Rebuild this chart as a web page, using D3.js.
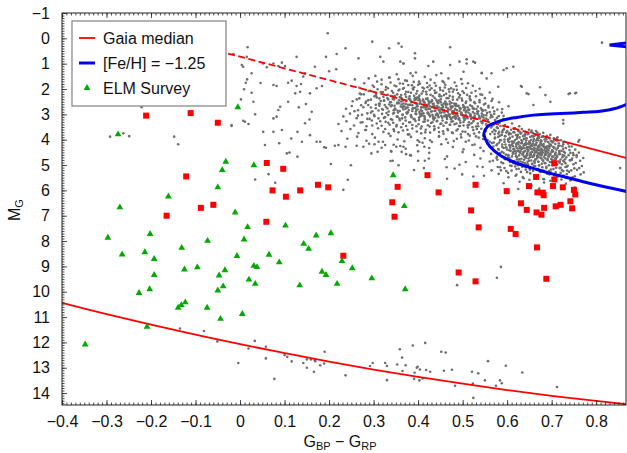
<!DOCTYPE html>
<html><head><meta charset="utf-8">
<script src="https://cdn.jsdelivr.net/npm/d3@7"></script>
<style>body{margin:0;background:#fff}svg{display:block}</style>
</head><body>
<svg id="c" width="627" height="453"></svg>
<script>
// ---------------- data ----------------
const xTickValues = [-0.4,-0.3,-0.2,-0.1,0,0.1,0.2,0.3,0.4,0.5,0.6,0.7,0.8];
const xTickLabels = ["\u22120.4","\u22120.3","\u22120.2","\u22120.1","0","0.1","0.2","0.3","0.4","0.5","0.6","0.7","0.8"];
const yTickValues = [-1,0,1,2,3,4,5,6,7,8,9,10,11,12,13,14];
const yTickLabels = ["\u22121","0","1","2","3","4","5","6","7","8","9","10","11","12","13","14"];

// Gaia median (upper straight relation)  [colour, M_G]
const gaiaX = [-0.027, 0.30, 0.60, 0.73, 0.867];
const gaiaM = [0.60, 2.11, 3.49, 4.09, 4.72];
const gaiaDashEnd = 0.73;

// Gaia median (white-dwarf cooling sequence)
const wdX = [-0.4,-0.3,-0.2,-0.1,0,0.1,0.2,0.3,0.4,0.5,0.6,0.7,0.8,0.867];
const wdM = [10.44,10.88,11.30,11.69,12.07,12.42,12.76,13.07,13.36,13.63,13.88,14.11,14.31,14.44];

// [Fe/H] = -1.25 isochrone
const isoX = [0.87,0.809,0.771,0.734,0.6965,0.659,0.6217,0.584,0.5617,0.5505,0.548,0.5557,0.584,0.6217,0.659,0.6965,0.734,0.771,0.809,0.8426,0.87];
const isoM = [6.05,5.82,5.66,5.49,5.33,5.13,4.93,4.61,4.28,3.95,3.74,3.49,3.26,3.12,3.03,2.99,2.96,2.92,2.88,2.77,2.59];
const hbX = [0.87,0.83,0.87];
const hbM = [0.18,0.26,0.34];

// red squares
const redX = [-0.211,-0.111,-0.050,0.060,0.097,-0.121,0.073,0.103,0.135,-0.088,-0.060,-0.165,0.059,0.175,0.198,0.232,0.342,0.347,0.354,0.421,0.446,0.491,0.529,0.519,0.536,0.529,0.599,0.608,0.619,0.631,0.644,0.649,0.665,0.668,0.680,0.682,0.666,0.677,0.683,0.667,0.688,0.703,0.706,0.706,0.725,0.709,0.720,0.742,0.746,0.750,0.753];
const redM = [3.05,2.95,3.33,4.92,5.15,5.45,6.00,6.25,6.00,6.69,6.57,7.00,7.24,5.78,5.88,8.58,6.47,7.04,5.86,5.40,6.08,9.24,5.78,6.79,7.46,9.59,6.03,7.52,7.72,6.51,6.77,5.83,5.47,6.08,6.09,6.19,6.87,6.96,6.69,8.25,9.49,5.83,5.57,4.93,5.88,6.63,6.57,6.43,6.71,5.98,6.16];

// ELM Survey (green triangles)
const elmX = [-0.005,-0.274,-0.032,-0.040,0.031,-0.050,-0.161,-0.270,-0.011,0.017,0.102,-0.297,-0.202,-0.073,0.009,-0.131,0.143,0.154,0.171,0.204,-0.265,-0.214,-0.193,-0.007,0.065,0.088,0.229,0.252,-0.193,-0.125,-0.096,-0.034,0.031,0.038,-0.047,0.020,0.184,0.193,0.218,0.134,0.034,-0.038,-0.050,-0.203,-0.227,-0.123,-0.132,-0.139,-0.074,0.005,-0.044,-0.209,-0.348,0.344,0.369,0.296,0.371];
const elmM = [2.72,3.79,4.87,5.20,5.01,5.88,6.24,6.67,6.87,7.45,7.39,7.87,7.72,7.99,7.94,8.27,8.11,8.31,7.78,7.69,8.53,8.44,8.71,8.59,8.54,8.84,8.79,9.07,9.34,9.12,9.04,9.15,8.98,9.03,9.36,9.52,9.21,9.34,9.69,9.75,9.69,9.79,9.95,9.90,10.05,10.42,10.53,10.63,10.63,10.88,11.07,11.38,12.08,5.40,6.62,9.47,9.90];

// Gaia field stars (grey dots), pairs [colour, M_G]
const greyStars = [
// sparse upper / left
[0.197,-0.20],[0.297,0.13],[0.356,0.20],[0.363,0.33],[0.237,0.39],[0.335,0.39],[0.017,0.35],[-0.015,0.62],[0.015,0.73],[0.127,0.73],[0.193,0.73],[0.217,0.62],[0.266,0.79],[0.315,0.73],[0.322,0.92],[0.393,0.59],[0.393,0.79],[0.360,0.92],[0.367,0.99],
[0.004,1.05],[0.007,1.12],[0.052,0.99],[0.060,1.14],[0.075,0.99],[0.086,1.09],[0.094,0.96],[0.101,1.09],[0.026,1.38],[0.016,1.62],[0.013,1.75],[0.046,1.76],[0.009,2.01],[0.026,2.15],[0.075,1.84],[0.082,1.88],[0.108,1.75],[0.116,1.67],[0.127,1.88],[0.137,1.80],[0.142,1.51],[0.146,1.38],[0.168,1.12],[0.200,1.30],[0.216,1.22],
[0.030,2.50],[0.002,2.41],[0.075,3.16],[0.082,3.09],[0.086,2.83],[0.090,2.70],[0.124,2.17],[0.135,2.11],[0.108,2.50],[0.132,2.72],[0.148,2.59],[0.161,2.90],[0.157,2.17],[0.172,1.97],[0.184,1.88],
[0.034,3.00],[-0.019,3.46],[0.007,3.25],[0.019,3.38],[0.052,3.69],[0.075,3.69],[0.094,3.62],[0.115,3.95],[0.139,4.08],[0.056,4.21],[0.088,4.14],[0.105,4.54],[0.129,4.67],[0.172,4.08],[0.180,4.08],[0.189,4.30],[0.213,4.24],[0.129,3.69],[0.157,3.82],[0.146,3.35],[0.156,3.20],
[-0.292,3.88],[-0.262,3.75],[-0.249,3.86],[-0.221,2.72],[-0.148,3.88],[-0.139,4.18],[-0.019,3.42],[0.011,3.29],[0.034,5.57],[0.064,5.36],[0.079,5.70],[0.111,4.51],
[0.204,4.96],[0.249,5.01],[0.242,5.58],[0.232,5.98],[0.193,4.32],[0.221,4.21],[0.237,4.28],[0.277,4.28],[0.302,4.18],[0.311,4.08],[0.309,4.48],[0.326,4.21],[0.339,4.45],[0.351,4.28],[0.360,4.25],[0.367,4.28],[0.363,4.48],[0.373,4.57],[0.384,4.62],[0.403,4.08],[0.410,4.12],[0.414,4.28],[0.400,4.46],[0.343,4.83],[0.356,5.01],[0.391,5.20],[0.400,4.83],[0.413,5.12],[0.424,4.74],[0.338,4.84],
[0.465,5.54],[0.524,5.45],[0.545,5.08],[0.499,5.37],[0.464,5.09],[0.493,4.99],[0.586,9.02],[0.577,9.45],[0.4875,9.74],[0.854,5.12],
[0.741,2.17],[0.755,2.15],[0.726,3.36],[0.762,4.01],[0.749,4.61],[0.741,4.80],[0.734,5.07],[0.723,5.20],[0.644,2.17],[0.686,2.24],[0.659,2.63],[0.633,1.91],[0.599,1.18],[0.614,1.12],[0.580,1.91],[0.554,1.58],[0.543,1.38],[0.509,0.99],[0.524,0.92],[0.472,1.05],[0.493,0.92],[0.434,0.92],[0.423,1.09],[0.383,1.38],[0.367,0.99],
[0.472,0.35],[0.509,0.83],[0.528,0.96],[0.543,1.36],[0.565,1.38],[0.592,1.25],[0.502,1.32],[0.631,1.88],[0.674,1.93],[0.648,2.20],[0.697,2.50],[0.738,2.20],[0.753,2.17],[0.726,3.22],[0.760,4.08],[0.756,4.61],[0.813,0.17],
// subgiant / turn-off band (broad)
[0.335,1.55],[0.352,1.42],[0.371,1.66],[0.388,1.48],[0.402,1.71],[0.415,1.52],[0.428,1.63],[0.441,1.45],[0.455,1.69],[0.468,1.58],[0.482,1.74],[0.497,1.61],[0.512,1.77],[0.395,1.35],[0.452,1.38],
[0.301,1.92],[0.318,1.81],[0.332,1.97],[0.347,1.86],[0.359,1.78],[0.366,1.99],[0.378,1.84],[0.391,1.93],[0.404,1.79],[0.413,1.98],[0.426,1.86],[0.437,1.76],[0.449,1.95],[0.461,1.83],[0.474,1.97],[0.486,1.88],[0.499,1.79],[0.508,1.96],[0.523,1.87],[0.538,1.99],[0.421,1.93],[0.458,1.74],
[0.272,2.21],[0.289,2.08],[0.305,2.25],[0.316,2.12],[0.327,2.03],[0.338,2.27],[0.344,2.15],[0.356,2.06],[0.362,2.24],[0.373,2.11],[0.381,2.29],[0.389,2.02],[0.396,2.18],[0.403,2.26],[0.411,2.09],[0.419,2.21],[0.426,2.04],[0.433,2.28],[0.441,2.14],[0.448,2.22],[0.456,2.07],[0.463,2.19],[0.471,2.27],[0.478,2.11],[0.487,2.03],[0.494,2.24],[0.503,2.16],[0.516,2.29],[0.529,2.08],[0.544,2.23],[0.561,2.14],[0.384,2.15],[0.437,2.06],[0.452,2.29],[0.469,2.01],
[0.253,2.48],[0.268,2.37],[0.282,2.55],[0.294,2.42],[0.307,2.33],[0.314,2.58],[0.323,2.46],[0.331,2.36],[0.339,2.52],[0.346,2.41],[0.353,2.57],[0.359,2.32],[0.366,2.45],[0.372,2.59],[0.379,2.38],[0.386,2.51],[0.392,2.43],[0.398,2.34],[0.405,2.56],[0.412,2.47],[0.418,2.39],[0.424,2.58],[0.431,2.44],[0.437,2.35],[0.444,2.53],[0.451,2.41],[0.458,2.57],[0.464,2.36],[0.471,2.49],[0.478,2.42],[0.485,2.58],[0.492,2.33],[0.499,2.46],[0.507,2.55],[0.516,2.38],[0.526,2.51],[0.538,2.44],[0.551,2.57],[0.567,2.39],[0.582,2.52],[0.362,2.49],[0.401,2.44],[0.428,2.52],[0.447,2.46],[0.475,2.55],
[0.238,2.78],[0.251,2.67],[0.265,2.84],[0.277,2.72],[0.288,2.63],[0.297,2.88],[0.305,2.76],[0.313,2.66],[0.321,2.82],[0.328,2.71],[0.334,2.89],[0.341,2.64],[0.348,2.77],[0.354,2.86],[0.361,2.69],[0.367,2.81],[0.374,2.73],[0.381,2.62],[0.387,2.87],[0.393,2.75],[0.399,2.68],[0.406,2.84],[0.412,2.72],[0.418,2.63],[0.424,2.79],[0.431,2.88],[0.437,2.67],[0.443,2.76],[0.449,2.85],[0.456,2.71],[0.462,2.62],[0.468,2.82],[0.475,2.74],[0.481,2.87],[0.488,2.66],[0.495,2.79],[0.502,2.72],[0.509,2.86],[0.517,2.64],[0.525,2.77],[0.534,2.69],[0.545,2.83],[0.558,2.73],[0.571,2.88],[0.589,2.79],[0.603,2.68],[0.372,2.78],[0.396,2.81],[0.421,2.71],[0.452,2.78],[0.478,2.69],[0.505,2.78],
[0.232,3.08],[0.247,2.97],[0.262,3.15],[0.274,3.02],[0.286,3.18],[0.294,2.93],[0.302,3.07],[0.311,3.16],[0.319,2.98],[0.326,3.11],[0.333,3.03],[0.339,3.19],[0.346,2.94],[0.352,3.09],[0.358,3.17],[0.365,3.01],[0.371,3.12],[0.377,2.92],[0.384,3.06],[0.390,3.18],[0.396,2.99],[0.402,3.13],[0.409,3.04],[0.415,3.19],[0.421,2.95],[0.427,3.08],[0.434,3.16],[0.440,3.02],[0.446,3.11],[0.452,2.93],[0.459,3.07],[0.465,3.18],[0.471,3.01],[0.478,3.12],[0.484,3.04],[0.491,3.19],[0.497,2.96],[0.504,3.09],[0.511,3.15],[0.518,3.03],[0.526,3.12],[0.534,2.97],[0.543,3.08],[0.553,3.17],[0.564,3.02],[0.577,3.14],[0.592,3.06],[0.408,2.97],[0.438,3.14],[0.468,3.05],[0.487,2.94],[0.519,3.18],
[0.221,3.38],[0.239,3.27],[0.256,3.44],[0.271,3.32],[0.284,3.47],[0.296,3.24],[0.307,3.36],[0.318,3.45],[0.327,3.29],[0.336,3.41],[0.344,3.33],[0.351,3.48],[0.359,3.23],[0.366,3.37],[0.373,3.46],[0.380,3.31],[0.387,3.42],[0.394,3.26],[0.401,3.39],[0.408,3.48],[0.415,3.28],[0.422,3.43],[0.429,3.34],[0.436,3.47],[0.443,3.25],[0.450,3.38],[0.457,3.45],[0.464,3.32],[0.471,3.41],[0.478,3.27],[0.486,3.36],[0.494,3.46],[0.502,3.30],[0.511,3.43],[0.520,3.35],[0.530,3.48],[0.541,3.28],[0.553,3.39],[0.566,3.46],[0.580,3.33],[0.595,3.42],[0.611,3.36],[0.627,3.47],
[0.228,3.66],[0.248,3.58],[0.266,3.74],[0.283,3.62],[0.297,3.78],[0.310,3.55],[0.322,3.69],[0.334,3.76],[0.345,3.59],[0.356,3.71],[0.366,3.64],[0.377,3.79],[0.387,3.56],[0.397,3.68],[0.407,3.75],[0.417,3.61],[0.427,3.72],[0.437,3.57],[0.447,3.70],[0.457,3.77],[0.467,3.63],[0.478,3.74],[0.489,3.59],[0.500,3.68],[0.512,3.78],[0.524,3.62],[0.537,3.71],[0.552,3.57],[0.567,3.69],[0.580,3.76],[0.592,3.61],[0.604,3.73],[0.616,3.58],[0.628,3.68],[0.641,3.77],[0.655,3.64],[0.668,3.72],
[0.241,3.96],[0.263,3.88],[0.284,4.04],[0.303,3.92],[0.321,4.08],[0.338,3.85],[0.354,3.99],[0.369,4.06],[0.384,3.89],[0.399,4.02],[0.415,3.94],[0.431,4.09],[0.447,3.86],[0.463,3.98],[0.480,4.05],[0.497,3.91],[0.514,4.03],[0.530,3.87],[0.546,3.97],[0.561,4.08],[0.573,3.92],[0.584,4.01],[0.595,3.86],[0.605,3.96],[0.614,4.07],[0.623,3.90],[0.632,4.02],[0.641,3.95],[0.650,4.08],[0.659,3.88],[0.668,3.99],[0.677,4.06],[0.687,3.93],[0.698,4.04],[0.711,3.97],[0.726,4.09],[0.602,4.04],[0.638,3.84],[0.665,4.03],
[0.262,4.24],[0.290,4.16],[0.318,4.32],[0.345,4.20],[0.372,4.36],[0.398,4.22],[0.425,4.33],[0.452,4.18],[0.478,4.29],[0.502,4.38],[0.522,4.21],[0.540,4.32],[0.556,4.16],[0.569,4.27],[0.580,4.37],[0.589,4.19],[0.598,4.30],[0.606,4.24],[0.614,4.38],[0.621,4.15],[0.628,4.27],[0.635,4.34],[0.642,4.19],[0.649,4.29],[0.655,4.37],[0.662,4.22],[0.669,4.32],[0.676,4.17],[0.683,4.28],[0.690,4.36],[0.698,4.20],[0.706,4.31],[0.715,4.24],[0.726,4.36],[0.739,4.27],[0.611,4.21],[0.632,4.31],[0.652,4.14],[0.672,4.39],[0.694,4.25],[0.592,4.33],[0.645,4.36],[0.681,4.21],
[0.295,4.54],[0.340,4.47],[0.382,4.61],[0.425,4.52],[0.465,4.66],[0.500,4.49],[0.526,4.60],[0.547,4.45],[0.564,4.56],[0.577,4.67],[0.588,4.48],[0.597,4.59],[0.605,4.42],[0.613,4.54],[0.620,4.65],[0.627,4.47],[0.634,4.58],[0.640,4.69],[0.647,4.44],[0.653,4.55],[0.660,4.63],[0.666,4.49],[0.673,4.60],[0.679,4.43],[0.686,4.53],[0.693,4.66],[0.700,4.48],[0.708,4.57],[0.717,4.45],[0.728,4.63],[0.742,4.52],[0.617,4.44],[0.637,4.51],[0.657,4.68],[0.676,4.52],[0.697,4.58],[0.602,4.63],[0.645,4.61],[0.668,4.41],[0.688,4.45],[0.712,4.68],
[0.415,4.83],[0.460,4.76],[0.507,4.88],[0.540,4.74],[0.561,4.86],[0.578,4.79],[0.591,4.93],[0.602,4.73],[0.611,4.85],[0.619,4.96],[0.627,4.77],[0.635,4.89],[0.642,4.72],[0.649,4.83],[0.656,4.95],[0.663,4.78],[0.670,4.87],[0.677,4.74],[0.684,4.92],[0.691,4.81],[0.699,4.88],[0.708,4.75],[0.718,4.86],[0.731,4.93],[0.745,4.80],[0.625,4.86],[0.645,4.97],[0.661,4.85],[0.681,4.83],[0.703,4.96],
[0.482,5.14],[0.533,5.06],[0.565,5.21],[0.584,5.09],[0.598,5.24],[0.610,5.04],[0.621,5.16],[0.631,5.27],[0.641,5.08],[0.651,5.19],[0.660,5.03],[0.669,5.15],[0.678,5.26],[0.688,5.07],[0.698,5.18],[0.709,5.29],[0.720,5.11],[0.735,5.22],[0.751,5.13],[0.645,5.28],[0.672,5.02],[0.694,5.24],
[0.548,5.42],[0.581,5.35],[0.603,5.48],[0.621,5.38],[0.637,5.52],[0.652,5.33],[0.666,5.45],[0.681,5.55],[0.695,5.37],[0.710,5.49],[0.727,5.41],[0.744,5.56],
[0.592,5.72],[0.628,5.66],[0.655,5.81],[0.683,5.69],[0.706,5.86],[0.732,5.74],[0.672,5.93],[0.625,5.95],[0.752,5.89],
// subgiant band core (diagonal)
[0.258,1.62],[0.262,2.41],[0.265,3.05],[0.257,2.88],[0.268,1.95],[0.272,2.64],[0.275,3.31],[0.269,2.18],[0.279,1.77],[0.283,2.49],[0.286,2.96],[0.281,3.62],[0.278,2.21],
[0.289,1.58],[0.292,2.07],[0.294,2.73],[0.291,3.18],[0.288,2.44],[0.298,1.86],[0.302,2.29],[0.305,2.62],[0.301,3.02],[0.297,3.44],[0.304,1.48],
[0.309,2.01],[0.313,2.37],[0.311,2.85],[0.315,3.27],[0.308,1.71],[0.312,2.58],[0.318,1.63],[0.321,2.12],[0.324,2.46],[0.319,2.79],[0.323,3.14],[0.326,3.58],[0.322,2.31],
[0.328,1.92],[0.332,2.23],[0.335,2.61],[0.329,2.95],[0.333,3.33],[0.336,1.55],[0.331,2.77],[0.338,1.74],[0.341,2.08],[0.343,2.39],[0.339,2.68],[0.344,2.97],[0.342,3.21],[0.346,3.66],[0.337,2.52],
[0.348,2.27],[0.351,1.89],[0.353,2.53],[0.349,2.81],[0.354,3.09],[0.352,3.42],[0.356,1.61],[0.347,2.66],[0.358,2.02],[0.361,2.34],[0.363,2.61],[0.359,2.87],[0.364,3.16],[0.362,3.51],[0.366,1.79],[0.357,2.45],[0.365,2.74],
[0.368,1.96],[0.371,2.21],[0.373,2.48],[0.369,2.69],[0.374,2.93],[0.372,3.24],[0.376,3.61],[0.367,2.57],[0.375,1.68],[0.378,2.12],[0.381,2.39],[0.383,2.62],[0.379,2.84],[0.384,3.03],[0.382,3.31],[0.386,1.85],[0.377,2.73],[0.385,2.51],[0.380,3.79],
[0.388,1.98],[0.391,2.27],[0.393,2.55],[0.389,2.76],[0.394,2.98],[0.392,3.19],[0.396,3.47],[0.387,2.64],[0.395,2.41],[0.390,1.72],[0.398,2.08],[0.401,2.33],[0.403,2.58],[0.399,2.81],[0.404,2.99],[0.402,3.22],[0.406,3.56],[0.397,2.69],[0.405,2.47],[0.400,1.83],[0.403,2.91],
[0.408,2.18],[0.411,2.42],[0.413,2.66],[0.409,2.87],[0.414,3.07],[0.412,3.29],[0.416,3.71],[0.407,2.74],[0.415,2.54],[0.410,1.94],[0.412,2.96],[0.418,2.11],[0.421,2.37],[0.423,2.61],[0.419,2.82],[0.424,3.01],[0.422,3.24],[0.426,3.48],[0.417,2.72],[0.425,2.51],[0.420,1.76],[0.422,2.93],[0.427,4.02],
[0.428,2.23],[0.431,2.47],[0.433,2.69],[0.429,2.89],[0.434,3.09],[0.432,3.31],[0.436,3.62],[0.427,2.78],[0.435,2.58],[0.430,1.97],[0.432,3.02],[0.438,2.16],[0.441,2.43],[0.443,2.67],[0.439,2.86],[0.444,3.05],[0.442,3.27],[0.446,3.53],[0.437,2.76],[0.445,2.56],[0.440,1.87],[0.442,2.97],[0.447,3.88],
[0.448,2.29],[0.451,2.52],[0.453,2.74],[0.449,2.93],[0.454,3.13],[0.452,3.36],[0.456,3.67],[0.447,2.84],[0.455,2.63],[0.450,2.04],[0.452,3.06],[0.458,2.24],[0.461,2.49],[0.463,2.72],[0.459,2.92],[0.464,3.11],[0.462,3.33],[0.466,3.58],[0.457,2.82],[0.465,2.61],[0.460,1.94],[0.462,3.03],[0.467,4.12],
[0.468,2.36],[0.471,2.59],[0.473,2.81],[0.469,3.01],[0.474,3.19],[0.472,3.41],[0.476,3.72],[0.467,2.91],[0.475,2.69],[0.470,2.11],[0.472,3.11],[0.478,2.31],[0.481,2.57],[0.483,2.79],[0.479,2.98],[0.484,3.17],[0.482,3.39],[0.486,3.64],[0.477,2.88],[0.485,2.68],[0.480,2.02],[0.482,3.08],[0.487,3.96],
[0.488,2.42],[0.491,2.66],[0.493,2.87],[0.489,3.06],[0.494,3.24],[0.492,3.46],[0.496,3.79],[0.487,2.96],[0.495,2.76],[0.490,2.17],[0.492,3.15],[0.498,2.38],[0.501,2.63],[0.503,2.84],[0.499,3.03],[0.504,3.22],[0.502,3.44],[0.506,3.69],[0.497,2.93],[0.505,2.73],[0.500,2.09],[0.502,3.13],[0.507,4.08],
[0.508,2.49],[0.511,2.72],[0.513,2.93],[0.509,3.12],[0.514,3.31],[0.512,3.52],[0.516,3.84],[0.507,3.02],[0.515,2.82],[0.510,2.23],[0.518,2.44],[0.521,2.68],[0.523,2.91],[0.519,3.09],[0.524,3.28],[0.522,3.51],[0.526,3.76],[0.517,2.99],[0.525,2.79],[0.520,2.15],[0.527,4.19],
[0.528,2.56],[0.531,2.79],[0.533,2.98],[0.529,3.17],[0.534,3.36],[0.532,3.58],[0.536,3.92],[0.527,3.07],[0.535,2.88],[0.530,2.29],[0.538,2.52],[0.541,2.76],[0.543,2.97],[0.539,3.16],[0.544,3.35],[0.542,3.57],[0.546,3.84],[0.537,3.06],[0.545,2.87],[0.540,2.21],
[0.548,2.61],[0.551,2.84],[0.553,3.04],[0.549,3.23],[0.554,3.43],[0.552,3.66],[0.556,4.02],[0.547,3.13],[0.555,2.94],[0.550,2.36],[0.558,2.66],[0.561,2.91],[0.563,3.12],[0.559,3.31],[0.564,3.52],[0.562,3.78],[0.566,4.13],[0.557,3.21],[0.565,2.47],
[0.568,2.73],[0.571,2.98],[0.573,3.22],[0.569,3.41],[0.574,3.66],[0.572,3.95],[0.576,4.22],[0.567,3.09],[0.578,2.81],[0.581,3.07],[0.583,3.33],[0.579,3.55],[0.584,3.84],[0.582,4.11],[0.588,2.93],[0.591,3.19],[0.593,3.47],[0.589,3.71],[0.594,3.99],
[0.373,2.31],[0.377,2.62],[0.375,2.97],[0.383,2.45],[0.387,2.78],[0.385,3.11],[0.393,2.36],[0.397,2.61],[0.395,2.89],[0.403,2.41],[0.407,2.71],[0.405,3.08],[0.413,2.52],[0.417,2.79],[0.415,3.14],[0.423,2.46],[0.427,2.68],[0.425,2.99],[0.433,2.58],[0.437,2.87],[0.435,3.21],[0.443,2.49],[0.447,2.73],[0.445,3.02],[0.453,2.62],[0.457,2.91],[0.455,3.24],[0.463,2.56],[0.467,2.77],[0.465,3.07],[0.473,2.69],[0.477,2.97],[0.475,3.29],[0.483,2.63],[0.487,2.83],[0.485,3.13],[0.493,2.74],[0.497,3.02],[0.495,3.33],[0.503,2.69],[0.507,2.91],[0.505,3.19],[0.513,2.81],[0.517,3.07],[0.515,3.41],[0.523,2.76],[0.527,2.97],[0.525,3.24],[0.533,2.89],[0.537,3.14],[0.535,3.47],[0.543,2.83],[0.547,3.03],[0.545,3.29],[0.353,2.21],[0.357,2.56],[0.355,2.93],[0.363,2.37],[0.367,2.68],[0.365,3.03],[0.333,2.41],[0.343,2.29],[0.345,2.84],[0.325,2.63],[0.316,2.47],[0.306,2.18],
// lower main-sequence clump
[0.569,3.42],[0.572,3.78],[0.570,4.11],[0.573,4.46],[0.568,4.83],[0.571,3.61],[0.577,3.51],[0.580,3.89],[0.578,4.17],[0.581,4.39],[0.576,4.72],[0.579,5.08],[0.582,3.69],
[0.585,3.46],[0.588,3.81],[0.586,4.02],[0.589,4.28],[0.584,4.53],[0.587,4.89],[0.590,3.64],[0.586,5.21],[0.593,3.58],[0.596,3.86],[0.594,4.08],[0.597,4.31],[0.592,4.52],[0.595,4.77],[0.598,3.72],[0.594,5.12],[0.596,4.19],
[0.601,3.49],[0.604,3.79],[0.602,3.98],[0.605,4.21],[0.600,4.39],[0.603,4.61],[0.606,4.88],[0.602,5.31],[0.604,4.09],[0.600,3.66],
[0.609,3.61],[0.612,3.88],[0.610,4.07],[0.613,4.26],[0.608,4.44],[0.611,4.66],[0.614,4.93],[0.610,5.22],[0.612,4.15],[0.608,3.77],[0.613,4.54],
[0.617,3.54],[0.620,3.82],[0.618,4.01],[0.621,4.19],[0.616,4.36],[0.619,4.55],[0.622,4.78],[0.618,5.06],[0.620,4.27],[0.616,3.71],[0.621,4.47],[0.619,5.42],
[0.625,3.66],[0.628,3.91],[0.626,4.09],[0.629,4.27],[0.624,4.43],[0.627,4.62],[0.630,4.86],[0.626,5.15],[0.628,4.35],[0.624,3.81],[0.629,4.52],[0.625,4.18],
[0.633,3.58],[0.636,3.86],[0.634,4.04],[0.637,4.22],[0.632,4.38],[0.635,4.57],[0.638,4.79],[0.634,5.08],[0.636,4.31],[0.632,3.74],[0.637,4.48],[0.633,4.13],[0.635,5.47],
[0.641,3.69],[0.644,3.94],[0.642,4.12],[0.645,4.29],[0.640,4.45],[0.643,4.63],[0.646,4.87],[0.642,5.18],[0.644,4.37],[0.640,3.83],[0.645,4.55],[0.641,4.21],[0.643,4.03],
[0.649,3.61],[0.652,3.89],[0.650,4.07],[0.653,4.25],[0.648,4.41],[0.651,4.59],[0.654,4.82],[0.650,5.12],[0.652,4.33],[0.648,3.77],[0.653,4.51],[0.649,4.17],[0.651,4.69],[0.650,5.58],
[0.657,3.72],[0.660,3.97],[0.658,4.15],[0.661,4.32],[0.656,4.48],[0.659,4.66],[0.662,4.91],[0.658,5.23],[0.660,4.41],[0.656,3.86],[0.661,4.58],[0.657,4.24],[0.659,4.06],
[0.665,3.66],[0.668,3.94],[0.666,4.12],[0.669,4.29],[0.664,4.46],[0.667,4.64],[0.670,4.87],[0.666,5.17],[0.668,4.37],[0.664,3.81],[0.669,4.55],[0.665,4.21],[0.667,4.73],[0.668,5.49],
[0.673,3.78],[0.676,4.02],[0.674,4.19],[0.677,4.36],[0.672,4.52],[0.675,4.71],[0.678,4.95],[0.674,5.27],[0.676,4.44],[0.672,3.92],[0.677,4.62],[0.673,4.28],[0.675,4.11],
[0.681,3.73],[0.684,3.99],[0.682,4.17],[0.685,4.34],[0.680,4.51],[0.683,4.69],[0.686,4.93],[0.682,5.22],[0.684,4.42],[0.680,3.87],[0.685,4.61],[0.681,4.26],[0.683,5.56],
[0.689,3.86],[0.692,4.09],[0.690,4.26],[0.693,4.42],[0.688,4.58],[0.691,4.77],[0.694,5.01],[0.690,5.34],[0.692,4.51],[0.688,3.99],[0.693,4.68],[0.689,4.34],
[0.697,3.81],[0.700,4.06],[0.698,4.24],[0.701,4.41],[0.696,4.57],[0.699,4.76],[0.702,5.01],[0.698,5.29],[0.700,4.49],[0.696,3.94],[0.701,4.67],[0.697,5.62],
[0.705,3.94],[0.708,4.17],[0.706,4.34],[0.709,4.51],[0.704,4.67],[0.707,4.86],[0.710,5.11],[0.706,5.41],[0.708,4.59],[0.704,4.06],[0.709,4.77],
[0.713,3.91],[0.716,4.14],[0.714,4.32],[0.717,4.49],[0.712,4.66],[0.715,4.86],[0.718,5.12],[0.714,5.45],[0.716,4.57],[0.712,4.03],
[0.721,4.02],[0.724,4.26],[0.722,4.44],[0.725,4.61],[0.720,4.78],[0.723,4.97],[0.726,5.24],[0.722,5.57],[0.724,4.69],
[0.729,4.08],[0.732,4.33],[0.730,4.52],[0.733,4.69],[0.728,4.87],[0.731,5.08],[0.734,5.36],[0.730,4.77],
[0.737,4.16],[0.740,4.41],[0.738,4.61],[0.741,4.82],[0.736,5.03],[0.739,5.27],[0.742,5.61],[0.745,4.27],[0.748,4.53],[0.746,4.74],[0.749,4.97],[0.744,5.21],[0.747,5.48],
[0.753,4.39],[0.756,4.68],[0.754,4.92],[0.757,5.19],[0.752,5.44],[0.761,4.51],[0.764,4.83],[0.762,5.12],[0.765,5.37],[0.771,4.72],[0.768,5.04],[0.772,5.29],
[0.606,3.93],[0.607,4.32],[0.605,4.71],[0.607,5.02],[0.614,3.71],[0.615,4.11],[0.614,4.49],[0.616,4.84],[0.622,3.96],[0.623,4.34],[0.622,4.69],[0.624,5.01],[0.623,4.13],
[0.630,3.76],[0.631,4.14],[0.630,4.47],[0.632,4.75],[0.631,4.97],[0.638,3.97],[0.639,4.33],[0.638,4.66],[0.640,4.92],[0.639,4.17],
[0.646,3.78],[0.647,4.16],[0.646,4.48],[0.648,4.74],[0.647,4.98],[0.646,4.31],[0.654,4.01],[0.655,4.37],[0.654,4.62],[0.656,4.96],[0.655,4.21],[0.654,3.71],
[0.662,3.83],[0.663,4.19],[0.662,4.51],[0.664,4.78],[0.663,5.04],[0.662,4.36],[0.670,4.03],[0.671,4.41],[0.670,4.68],[0.672,5.01],[0.671,4.24],[0.670,3.86],
[0.678,3.89],[0.679,4.23],[0.678,4.57],[0.680,4.81],[0.679,5.09],[0.678,4.41],[0.686,4.07],[0.687,4.47],[0.686,4.74],[0.688,5.12],[0.687,4.29],
[0.694,3.93],[0.695,4.33],[0.694,4.63],[0.696,4.88],[0.695,4.16],[0.702,4.11],[0.703,4.46],[0.702,4.79],[0.704,5.16],[0.703,4.28],
[0.710,4.02],[0.711,4.39],[0.710,4.72],[0.712,4.97],[0.718,4.24],[0.719,4.56],[0.718,4.91],[0.720,5.31],[0.726,4.18],[0.727,4.47],[0.726,4.83],
// white-dwarf region
[-0.135,11.45],[-0.081,11.55],[-0.051,11.96],[-0.004,12.81],[0.019,12.24],[0.033,11.94],[0.058,12.17],[0.058,12.63],[0.077,13.44],[0.100,12.50],[0.106,12.57],[0.116,12.75],[0.150,12.67],[0.159,12.67],[0.150,13.00],[0.166,13.16],[0.168,12.70],[0.180,12.90],
[0.142,12.81],[0.169,12.74],[0.190,12.37],[0.189,12.83],[0.237,13.30],[0.292,12.93],[0.298,12.81],[0.326,12.81],[0.330,12.93],[0.330,13.49],[0.353,12.87],[0.359,12.27],[0.364,12.60],[0.365,13.13],[0.372,12.90],[0.388,12.12],[0.392,13.20],[0.397,13.00],[0.399,12.96],[0.404,13.07],[0.391,13.44],[0.403,13.50],[0.410,13.42],[0.416,12.02],[0.418,13.09],[0.427,13.16],[0.452,12.37],[0.462,12.40],[0.458,13.12],[0.476,13.08],[0.483,13.71],[0.521,13.16],[0.523,13.62],[0.535,13.22],[0.524,14.19],[0.550,13.50],[0.557,12.74],[0.575,13.71],[0.584,13.50],[0.588,13.61],[0.597,12.92],[0.634,13.19],[0.712,13.76]
];

// ---------------- drawing ----------------
const L = 62, R = 626, T = 13, B = 405;
const FONT = "'Liberation Sans', Arial, sans-serif";
const svg = d3.select("#c");
const x = d3.scaleLinear().domain([-0.4, 0.867]).range([L, R]);
const y = d3.scaleLinear().domain([-1, 14.47]).range([T, B]);

svg.append("defs").append("clipPath").attr("id","clip")
  .append("rect").attr("x",L).attr("y",T).attr("width",R-L).attr("height",B-T);
const plot = svg.append("g").attr("clip-path","url(#clip)");

// grey stars
plot.append("g").selectAll("circle").data(greyStars).join("circle")
  .attr("cx", d => x(d[0])).attr("cy", d => y(d[1])).attr("r", 1.3)
  .attr("fill", "#6e6e6e");

// lines
const line = d3.line().x(d => x(d[0])).y(d => y(d[1]));
const gaiaPts = gaiaX.map((v,i)=>[v,gaiaM[i]]);
plot.append("path").datum(gaiaPts.filter(d=>d[0]<=gaiaDashEnd))
  .attr("d", line).attr("fill","none").attr("stroke","#ff0000").attr("stroke-width",1.8)
  .attr("stroke-dasharray","7,3.5");
plot.append("path").datum(gaiaPts.filter(d=>d[0]>=gaiaDashEnd))
  .attr("d", line).attr("fill","none").attr("stroke","#ff0000").attr("stroke-width",1.8);
const curve = d3.line().x(d => x(d[0])).y(d => y(d[1])).curve(d3.curveCatmullRom);
plot.append("path").datum(wdX.map((v,i)=>[v,wdM[i]]))
  .attr("d", curve).attr("fill","none").attr("stroke","#ff0000").attr("stroke-width",1.8);
plot.append("path").datum(isoX.map((v,i)=>[v,isoM[i]]))
  .attr("d", curve).attr("fill","none").attr("stroke","#0000ee").attr("stroke-width",3);
plot.append("path").datum(hbX.map((v,i)=>[v,hbM[i]]))
  .attr("d", line).attr("fill","none").attr("stroke","#0000ee").attr("stroke-width",3);

// red squares
plot.append("g").selectAll("rect").data(redX.map((v,i)=>[v,redM[i]])).join("rect")
  .attr("x", d => x(d[0]) - 3).attr("y", d => y(d[1]) - 3)
  .attr("width", 6).attr("height", 6).attr("fill", "#ff0000");

// ELM triangles
const tri = d3.symbol().type(d3.symbolTriangle).size(20);
plot.append("g").selectAll("path").data(elmX.map((v,i)=>[v,elmM[i]])).join("path")
  .attr("d", tri).attr("transform", d => `translate(${x(d[0])},${y(d[1])})`)
  .attr("fill", "#00aa00");

// axes
function styleAxis(g){
  g.attr("font-family", FONT).attr("font-size", 16);
  g.select(".domain").remove();
  g.selectAll(".tick line").attr("stroke","#222").attr("stroke-width",0.8);
  g.selectAll(".tick text").attr("fill","#111");
}
const xMinor = d3.range(-0.4, 0.8701, 0.01);
const yMinor = d3.range(-1, 14.4701, 0.1);
svg.append("g").attr("transform",`translate(0,${B})`)
  .call(d3.axisBottom(x).tickValues(xMinor).tickSize(-2.5).tickFormat("")).call(styleAxis);
svg.append("g").attr("transform",`translate(0,${B})`)
  .call(d3.axisBottom(x).tickValues(xTickValues).tickSize(-5).tickPadding(11)
    .tickFormat((d,i)=>xTickLabels[i])).call(styleAxis);
svg.append("g").attr("transform",`translate(0,${T})`)
  .call(d3.axisTop(x).tickValues(xMinor).tickSize(-2.5).tickFormat("")).call(styleAxis);
svg.append("g").attr("transform",`translate(0,${T})`)
  .call(d3.axisTop(x).tickValues(xTickValues).tickSize(-5).tickFormat("")).call(styleAxis);
svg.append("g").attr("transform",`translate(${L},0)`)
  .call(d3.axisLeft(y).tickValues(yMinor).tickSize(-2.5).tickFormat("")).call(styleAxis);
svg.append("g").attr("transform",`translate(${L},0)`)
  .call(d3.axisLeft(y).tickValues(yTickValues).tickSize(-5).tickPadding(12)
    .tickFormat((d,i)=>yTickLabels[i])).call(styleAxis);

// frame
svg.append("rect").attr("x",L).attr("y",T).attr("width",R-L).attr("height",B-T)
  .attr("fill","none").attr("stroke","#222").attr("stroke-width",1);

// axis labels
const xl = svg.append("text").attr("x", 340).attr("y", 447).attr("text-anchor","middle")
  .attr("font-family",FONT).attr("font-size",16).attr("fill","#111");
xl.append("tspan").text("G");
xl.append("tspan").attr("font-size",11).attr("dy",3).text("BP");
xl.append("tspan").attr("dy",-3).text(" \u2212 G");
xl.append("tspan").attr("font-size",11).attr("dy",3).text("RP");
const yl = svg.append("text").attr("transform","translate(20,210) rotate(-90)").attr("text-anchor","middle")
  .attr("font-family",FONT).attr("font-size",16).attr("fill","#111");
yl.append("tspan").text("M");
yl.append("tspan").attr("font-size",11).attr("dy",3).text("G");

// legend
const lg = svg.append("g");
lg.append("rect").attr("x",72).attr("y",21).attr("width",154).attr("height",85)
  .attr("fill","#fff").attr("stroke","#808080").attr("stroke-width",1.2);
const legItems = ["Gaia median", "[Fe/H] = \u22121.25", "ELM Survey"];
const legY = [38, 63, 88];
lg.append("line").attr("x1",79).attr("x2",95).attr("y1",legY[0]).attr("y2",legY[0])
  .attr("stroke","#ff0000").attr("stroke-width",1.8);
lg.append("line").attr("x1",79).attr("x2",95).attr("y1",legY[1]).attr("y2",legY[1])
  .attr("stroke","#0000ee").attr("stroke-width",3);
lg.append("path").attr("d",tri).attr("transform",`translate(87,${legY[2]})`).attr("fill","#00aa00");
lg.selectAll("text.l").data(legItems).join("text").attr("class","l")
  .attr("x",103).attr("y",(d,i)=>legY[i]+6).attr("font-family",FONT).attr("font-size",16)
  .attr("fill","#111").text(d=>d);
</script>
</body></html>
